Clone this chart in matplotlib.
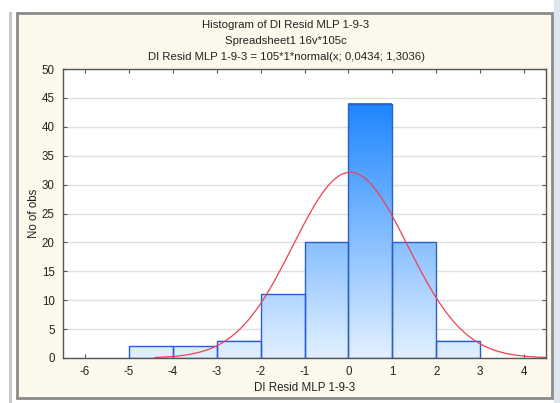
import numpy as np
import matplotlib
matplotlib.use("Agg")
import matplotlib.pyplot as plt
from matplotlib.colors import LinearSegmentedColormap
from matplotlib.patches import Rectangle

# Data
bin_edges = [-5, -4, -3, -2, -1, 0, 1, 2, 3]
counts = [2, 2, 3, 11, 20, 44, 20, 3]
n_total = 105
mu, sigma = 0.0434, 1.3036
x_ticks = [-6, -5, -4, -3, -2, -1, 0, 1, 2, 3, 4]
y_ticks = [0, 5, 10, 15, 20, 25, 30, 35, 40, 45, 50]
titles = ["Histogram of DI Resid MLP 1-9-3",
          "Spreadsheet1 16v*105c",
          "DI Resid MLP 1-9-3 = 105*1*normal(x; 0,0434; 1,3036)"]
xlabel = "DI Resid MLP 1-9-3"
ylabel = "No of obs"

plt.rcParams['font.family'] = ['Liberation Sans', 'DejaVu Sans']
W, H = 560, 403
fig = plt.figure(figsize=(W / 100, H / 100), dpi=100, facecolor='white')

# window chrome / background panel
fig.patches.append(Rectangle((17 / W, 1 - 398 / H), (552 - 17) / W, (398 - 13) / H,
                             transform=fig.transFigure, facecolor='#fdf8ec',
                             edgecolor='#8a8a8a', linewidth=2.0, zorder=-10))
fig.patches.append(Rectangle((9 / W, 0), 3 / W, 1 - 12 / H, transform=fig.transFigure,
                             facecolor='#c8c8c8', edgecolor='none', zorder=-10))
fig.patches.append(Rectangle((554 / W, 0), 6 / W, 1, transform=fig.transFigure,
                             facecolor='#dde6f0', edgecolor='none', zorder=-10))

ax = fig.add_axes([63 / W, 1 - 358 / H, (546 - 63) / W, (358 - 69) / H])
ax.set_facecolor('white')

cmap = LinearSegmentedColormap.from_list('g', ['#e2f0ff', '#1e86ff'])
ymax = max(counts)
for i, c in enumerate(counts):
    l, r = bin_edges[i], bin_edges[i + 1]
    grad = np.linspace(0, c / ymax, 100).reshape(-1, 1)
    ax.imshow(grad, cmap=cmap, vmin=0, vmax=1, origin='lower', aspect='auto',
              extent=[l, r, 0, c], zorder=2, interpolation='bilinear')
    ax.add_patch(Rectangle((l, 0), r - l, c, facecolor='none', edgecolor='#2a5fcf',
                           linewidth=1.0, zorder=3))
ax.set_xlim(-6.5, 4.5)
ax.set_ylim(0, 50)

xs = np.linspace(-4.4, 4.5, 400)
ys = n_total * 1 * np.exp(-0.5 * ((xs - mu) / sigma) ** 2) / (sigma * np.sqrt(2 * np.pi))
ax.plot(xs, ys, color='#f04050', linewidth=0.9, zorder=4)

ax.set_xticks(x_ticks)
ax.set_yticks(y_ticks)
ax.set_xticklabels([str(t) for t in x_ticks])
ax.set_yticklabels([str(t) for t in y_ticks])
ax.tick_params(direction='in', length=3, width=0.8, color='#555555', labelsize=8.3,
               top=True, right=True, pad=6, labelcolor='#222222')
ax.yaxis.grid(True, color='#e0e0e0', linewidth=1.0, zorder=1)
ax.set_axisbelow(True)
for s in ax.spines.values():
    s.set_color('#555555')
    s.set_linewidth(1.0)
    s.set_zorder(5)

ax.set_xlabel(xlabel, fontsize=8.3, color='#222222', labelpad=2.5)
ax.set_ylabel(ylabel, fontsize=8.3, color='#222222', labelpad=1.5)

for i, t in enumerate(titles):
    fig.text(286 / W, 1 - (25 + i * 16) / H, t, ha='center', va='center',
             fontsize=8.2, color='#222222')

fig.savefig('out.png', dpi=100, facecolor=fig.get_facecolor())
